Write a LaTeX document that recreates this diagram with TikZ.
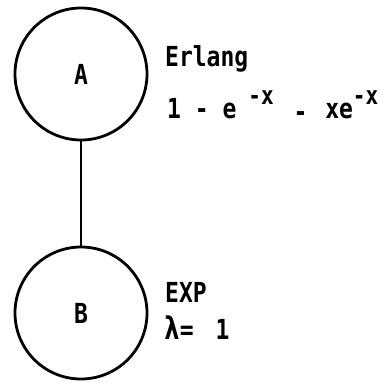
\documentclass[tikz,border=0pt]{standalone}
\usepackage{fontspec}
\setmainfont{DejaVu Sans Mono}[BoldFont={DejaVu Sans Mono Bold}]
\newcommand{\tall}[1]{\scalebox{1}[1.2]{#1}}
\begin{document}
\begin{tikzpicture}[x=1pt,y=-1pt,
  state/.style={draw,circle,line width=2.8pt,minimum size=132pt,inner sep=0pt,font=\fontsize{23}{23}\bfseries\selectfont},
  lab/.style={anchor=base west,inner sep=0pt,font=\fontsize{23}{23}\bfseries\selectfont}]
\useasboundingbox (0,0) rectangle (388,383);
\node[state] (A) at (81,74) {\tall{A}};
\node[state] (B) at (81,313) {\tall{B}};
\draw[line width=2.8pt] (A.south) -- (B.north);
\node[lab] (t1) at (165,66) {\tall{Erlang}};
\node[lab] (t2) at (167,118) {\tall{1 - e\hspace{12pt}\raisebox{11pt}{\fontsize{21}{21}\selectfont -x}\hspace{6pt} \raisebox{-3pt}{-}\hspace{4pt} xe\raisebox{11pt}{\fontsize{21}{21}\selectfont -x}}};
\node[lab] (t3) at (165,302) {\tall{EXP}};
\node[lab] (t4) at (164,339) {\tall{{\fontsize{26}{26}\selectfont λ}=\hspace{8pt} 1}};
\end{tikzpicture}
\end{document}
